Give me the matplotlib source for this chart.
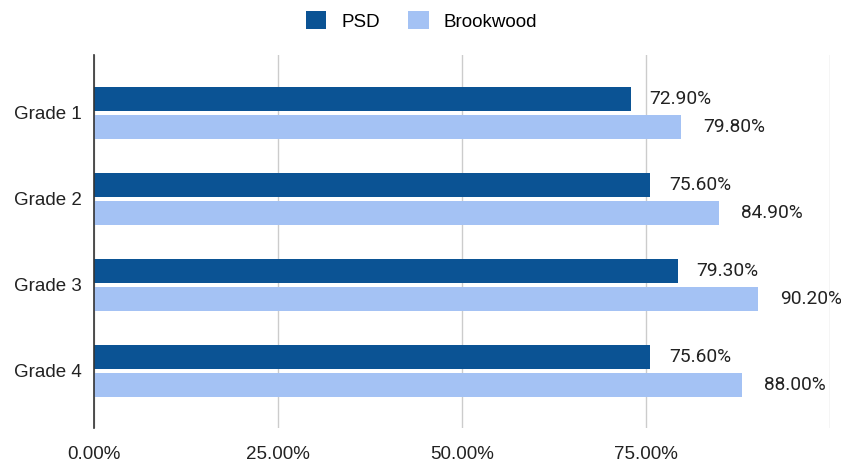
import matplotlib.pyplot as plt
import numpy as np
from matplotlib.ticker import FuncFormatter

grades = ["Grade 1", "Grade 2", "Grade 3", "Grade 4"]
psd = [72.9, 75.6, 79.3, 75.6]
brookwood = [79.8, 84.9, 90.2, 88.0]
xticks = [0, 25, 50, 75, 100]

plt.rcParams['font.family'] = ['Liberation Sans', 'DejaVu Sans']

fig = plt.figure(figsize=(8.41, 4.62), dpi=100)
ax = fig.add_axes([94 / 841, 1 - 428 / 462, (830 - 94) / 841, (428 - 55) / 462])

y = np.arange(len(grades))
h = 0.28
off = 0.163
b1 = ax.barh(y - off, psd, height=h, color="#0b5394", label="PSD")
b2 = ax.barh(y + off, brookwood, height=h, color="#a4c2f4", label="Brookwood")

# value labels
for bars, vals, pad in [(b1, psd, 19), (b2, brookwood, 22)]:
    for bar, v in zip(bars, vals):
        ax.annotate(f"{v:.2f}%", (bar.get_width(), bar.get_y() + bar.get_height() / 2),
                    xytext=(pad, 0), textcoords="offset pixels",
                    va="center", ha="left", fontsize=13.8, color="#222222",
                    family=["Roboto", "DejaVu Sans"], clip_on=False)

ax.set_xlim(0, 100)
ax.set_ylim(3.665, -0.674)
ax.set_xticks(xticks)
ax.xaxis.set_major_formatter(FuncFormatter(lambda v, p: f"{v:.2f}%" if v < 100 else ""))
ax.set_yticks(y)
ax.set_yticklabels(grades)
ax.tick_params(axis="both", length=0, labelsize=13.5, labelcolor="#222222")
ax.tick_params(axis="x", pad=13)
ax.tick_params(axis="y", pad=9)
ax.grid(axis="x", color="#cccccc", linewidth=1)
ax.set_axisbelow(True)
for s in ["top", "right", "bottom"]:
    ax.spines[s].set_visible(False)
ax.spines["left"].set_color("#333333")
ax.spines["left"].set_linewidth(1.2)
ax.spines["left"].set_zorder(3)

fig.legend(handles=[b1, b2], loc="upper center", bbox_to_anchor=(0.501, 1.012), ncol=2,
           frameon=False, fontsize=13.5, handlelength=1.1, handleheight=1.1,
           columnspacing=1.5, handletextpad=0.8)

fig.savefig("out.png", dpi=100)
